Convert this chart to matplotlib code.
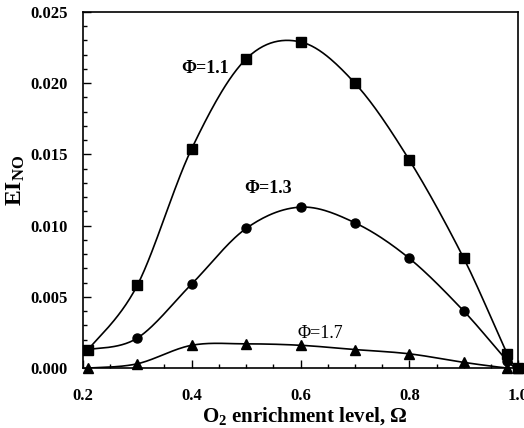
import numpy as np
import matplotlib
matplotlib.use("Agg")
import matplotlib.pyplot as plt
from matplotlib.ticker import MultipleLocator, FormatStrFormatter

plt.rcParams['font.family'] = ['Liberation Serif', 'DejaVu Serif']
plt.rcParams['mathtext.fontset'] = 'custom'
plt.rcParams['mathtext.rm'] = 'Liberation Serif'
plt.rcParams['mathtext.bf'] = 'Liberation Serif:bold'

# O2 enrichment level and NO emission index for each equivalence ratio
omega = [0.21, 0.3, 0.4, 0.5, 0.6, 0.7, 0.8, 0.9, 0.98, 1.0]
ei_phi11 = [0.0013, 0.0058, 0.0154, 0.0217, 0.0229, 0.0200, 0.0146, 0.0077, 0.0010, 0.0000]
ei_phi13 = [0.0013, 0.0021, 0.0059, 0.0098, 0.0113, 0.0102, 0.0077, 0.0040, 0.0005, 0.0000]
ei_phi17 = [0.0000, 0.0003, 0.0016, 0.0017, 0.0016, 0.0013, 0.0010, 0.0004, 0.0000, 0.0000]

labels = ['\u03a6=1.1', '\u03a6=1.3', '\u03a6=1.7']
markers = ['s', 'o', '^']
label_pos = [(0.425, 0.0210), (0.54, 0.0126), (0.636, 0.0024)]
label_bold = ['bold', 'bold', 'normal']


def smooth(x, y, n=30):
    # Catmull-Rom style smoothing, like spreadsheet "smoothed line"
    x = np.asarray(x, float)
    y = np.asarray(y, float)
    xs, ys = [], []
    for i in range(len(x) - 1):
        p0 = i - 1 if i > 0 else i
        p3 = i + 2 if i + 2 < len(x) else i + 1
        t = np.linspace(0, 1, n)
        for arr, out in ((x, xs), (y, ys)):
            P0, P1, P2, P3 = arr[p0], arr[i], arr[i + 1], arr[p3]
            c1 = P1 + (P2 - P0) / 6
            c2 = P2 - (P3 - P1) / 6
            out.extend((1 - t) ** 3 * P1 + 3 * (1 - t) ** 2 * t * c1
                       + 3 * (1 - t) * t ** 2 * c2 + t ** 3 * P2)
    return np.array(xs), np.array(ys)


fig = plt.figure(figsize=(5.24, 4.28), dpi=100)
ax = fig.add_axes([0.158, 0.140, 0.831, 0.832])

for ys, m, lab, pos, fw in zip([ei_phi11, ei_phi13, ei_phi17], markers,
                               labels, label_pos, label_bold):
    sx, sy = smooth(omega, ys)
    ax.plot(sx, sy, color='black', lw=1.2)
    ax.plot(omega, ys, linestyle='none', marker=m, color='black',
            markersize=6.5, clip_on=False)
    ax.text(pos[0], pos[1], lab, fontsize=13, fontweight=fw,
            ha='center', va='center')

ax.set_xlim(0.2, 1.0)
ax.set_ylim(0.0, 0.025)
ax.xaxis.set_major_locator(MultipleLocator(0.2))
ax.xaxis.set_minor_locator(MultipleLocator(0.05))
ax.yaxis.set_major_locator(MultipleLocator(0.005))
ax.yaxis.set_minor_locator(MultipleLocator(0.001))
ax.xaxis.set_major_formatter(FormatStrFormatter('%.1f'))
ax.yaxis.set_major_formatter(FormatStrFormatter('%.3f'))
ax.tick_params(which='both', direction='in', top=False, right=False,
               labelsize=12)
ax.tick_params(which='major', length=6, width=1)
ax.tick_params(axis='x', which='major', pad=14)
ax.tick_params(axis='y', which='major', pad=11)
ax.tick_params(which='minor', length=3, width=1)
for lbl in ax.get_xticklabels() + ax.get_yticklabels():
    lbl.set_fontweight('bold')
for sp in ax.spines.values():
    sp.set_linewidth(1.2)

ax.set_xlabel(r'$\mathbf{O_2}$ enrichment level, $\mathbf{\Omega}$',
              fontsize=15, fontweight='bold')
ax.set_ylabel(r'$\mathbf{EI_{NO}}$', fontsize=17)
ax.xaxis.set_label_coords(0.51, -0.135)
ax.yaxis.set_label_coords(-0.154, 0.528)
ax.xaxis.label.set_va('center')
ax.yaxis.label.set_va('center')

fig.savefig('out.png', dpi=100)
